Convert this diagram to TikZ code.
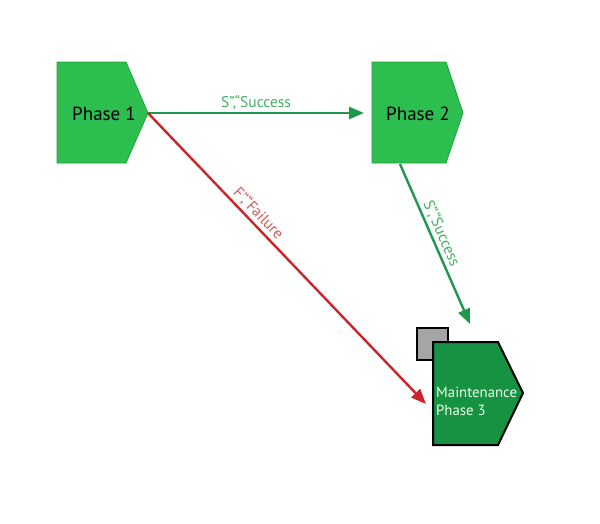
\documentclass[tikz,border=0pt]{standalone}
\usepackage{fontspec}
\setmainfont{PT Sans}
\usetikzlibrary{arrows.meta}
\definecolor{phasefill}{RGB}{44,190,78}
\definecolor{phaseedge}{RGB}{34,160,64}
\definecolor{mainfill}{RGB}{22,146,66}
\definecolor{arrgreen}{RGB}{30,152,78}
\definecolor{lblgreen}{RGB}{70,175,100}
\definecolor{arrred}{RGB}{200,38,40}
\definecolor{lblred}{RGB}{210,90,90}
\definecolor{boxgray}{RGB}{165,165,165}
\tikzset{
  phasebox/.style={fill=phasefill,draw=phaseedge,line width=0.8pt,line join=miter},
  mainbox/.style={fill=mainfill,draw=black,line width=2pt,line join=miter},
  phasetext/.style={font=\fontsize{19}{22}\selectfont,text=black,inner sep=0pt},
  greenarrow/.style={draw=arrgreen,line width=2.4pt,-{Triangle[length=15pt,width=12pt]}},
  redarrow/.style={draw=arrred,line width=2.4pt,-{Triangle[length=15pt,width=12pt]}},
  glabel/.style={font=\fontsize{15.5}{18}\selectfont,text=lblgreen,inner sep=2pt},
  rlabel/.style={font=\fontsize{15.5}{18}\selectfont,text=lblred,inner sep=2pt}
}
\begin{document}
\begin{tikzpicture}[x=1pt,y=-1pt]
\useasboundingbox (0,0) rectangle (600,523);
% Phase 1
\draw[phasebox] (57,62) -- (126,62) -- (148,113) -- (126,163) -- (57,163) -- cycle;
\coordinate (p1tip) at (148,113);
\node[phasetext] (p1) at (104,114) {Phase 1};
% Phase 2
\draw[phasebox] (372,62) -- (446,62) -- (463,113) -- (446,163) -- (372,163) -- cycle;
\coordinate (p2in) at (364,113);
\coordinate (p2bot) at (400,164);
\node[phasetext] (p2) at (418,114) {Phase 2};
% Phase 3
\draw[fill=boxgray,draw=black,line width=1.6pt] (417,328) rectangle (448,360);
\draw[mainbox] (433,342) -- (498,342) -- (523,393) -- (498,445) -- (433,445) -- cycle;
\node[font=\fontsize{14.8}{18}\selectfont,text=white!92!green,align=left,anchor=west,inner sep=0pt] (p3) at (436,401) {Maintenance\\Phase 3};
\coordinate (p3top) at (470,324);
\coordinate (p3left) at (426,404);
% connectors
\draw[greenarrow] (p1tip) -- node[glabel,above,pos=0.5] (l1) {S”,“Success} (p2in);
\draw[greenarrow] (p2bot) -- node[glabel,above,sloped,pos=0.46] (l2) {S”,“Success} (p3top);
\draw[redarrow] (p1tip) -- node[rlabel,above,sloped,pos=0.37] (l3) {F”,“Failure} (p3left);
\end{tikzpicture}
\end{document}
